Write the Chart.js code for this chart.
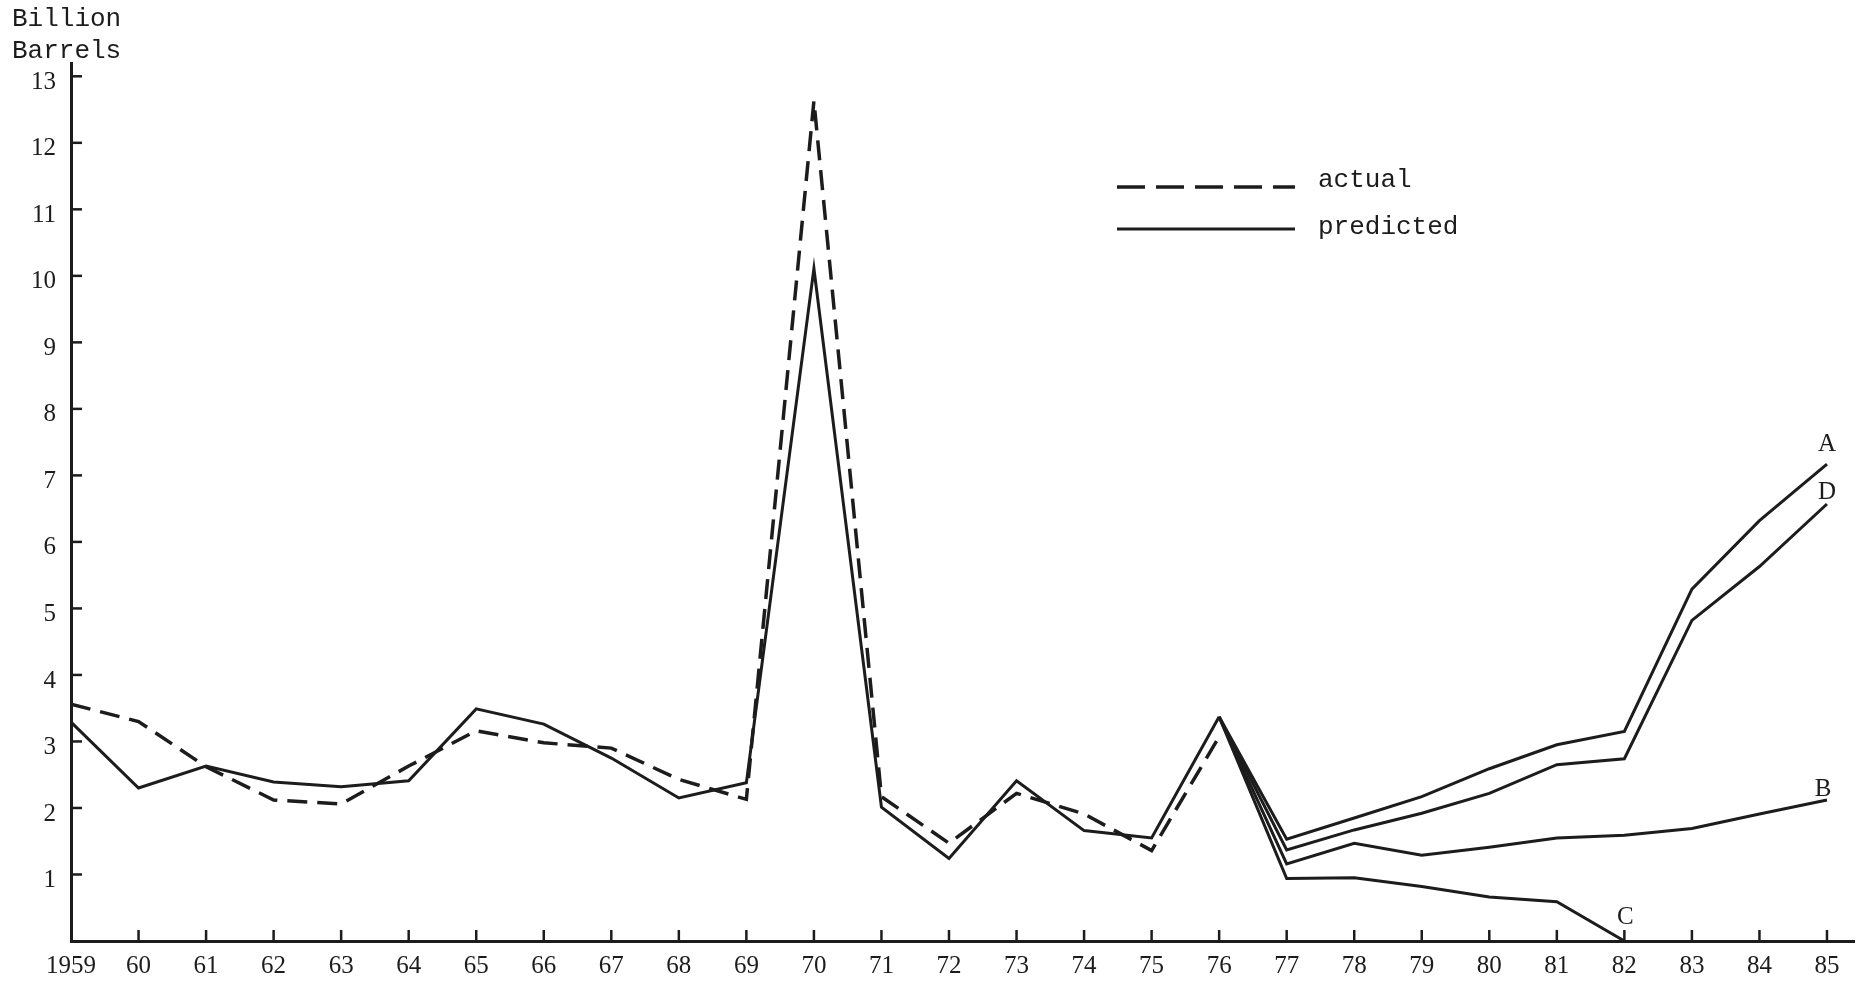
<!DOCTYPE html>
<html lang="en">
  <head>
    <meta charset="UTF-8" />
    <title>Billion Barrels - actual vs predicted</title>
    <script src="https://cdn.jsdelivr.net/npm/chart.js"></script>
    <style>
      html,
      body {
        margin: 0;
        padding: 0;
        background: #ffffff;
      }
      #chart {
        display: block;
      }
    </style>
  </head>
  <body>
    <canvas id="chart" width="1859" height="992"></canvas>

    <script>
      // --- data ---
      var years = [
        1959, 1960, 1961, 1962, 1963, 1964, 1965, 1966, 1967, 1968, 1969, 1970,
        1971, 1972, 1973, 1974, 1975, 1976,
      ];
      var actual = [
        3.56, 3.3, 2.62, 2.12, 2.06, 2.63, 3.16, 2.98, 2.9, 2.43, 2.13, 12.63,
        2.17, 1.47, 2.22, 1.91, 1.36, 3.07,
      ];
      var predicted = [
        3.29, 2.3, 2.63, 2.39, 2.32, 2.41, 3.49, 3.26, 2.75, 2.15, 2.38, 10.11,
        2.01, 1.24, 2.41, 1.66, 1.55, 3.37,
      ];

      // the four cases branch off the 1976 predicted value
      var caseYears = [
        1976, 1977, 1978, 1979, 1980, 1981, 1982, 1983, 1984, 1985,
      ];
      var caseA = [3.37, 1.53, 1.85, 2.17, 2.59, 2.95, 3.15, 5.29, 6.32, 7.17];
      var caseD = [3.37, 1.37, 1.67, 1.92, 2.22, 2.65, 2.74, 4.82, 5.63, 6.57];
      var caseB = [3.37, 1.16, 1.47, 1.29, 1.41, 1.55, 1.59, 1.69, 1.91, 2.12];
      var caseC = [3.37, 0.94, 0.95, 0.82, 0.66, 0.59, 0];

      var xTickLabels = [
        "1959", "60", "61", "62", "63", "64", "65", "66", "67", "68", "69",
        "70", "71", "72", "73", "74", "75", "76", "77", "78", "79", "80",
        "81", "82", "83", "84", "85",
      ];
      var yTickLabels = [
        "1", "2", "3", "4", "5", "6", "7", "8", "9", "10", "11", "12", "13",
      ];

      var ink = "#1c1c1c";
      var typeFont = '"Liberation Mono", "Courier New", monospace';
      var numFont = '"Liberation Serif", "Times New Roman", serif';

      function pairs(xs, ys) {
        return ys.map(function (v, i) {
          return { x: xs[i], y: v };
        });
      }

      function solid(label, xs, ys) {
        return {
          label: label,
          data: pairs(xs, ys),
          borderColor: ink,
          borderWidth: 3,
          pointRadius: 0,
          tension: 0,
          fill: false,
        };
      }

      var actualSet = solid("actual", years, actual);
      actualSet.borderWidth = 3.5;
      actualSet.borderDash = [20, 10];

      // draws the inner tick marks, the typed legend and the A-D tags
      var paperPlugin = {
        id: "paper",
        afterDraw: function (chart) {
          var ctx = chart.ctx;
          var xs = chart.scales.x;
          var ys = chart.scales.y;
          ctx.save();
          ctx.strokeStyle = ink;
          ctx.fillStyle = ink;
          ctx.lineWidth = 2.5;

          xs.ticks.forEach(function (t) {
            if (!Number.isInteger(t.value) || t.value === 1959) return;
            var px = xs.getPixelForValue(t.value);
            ctx.beginPath();
            ctx.moveTo(px, xs.top);
            ctx.lineTo(px, xs.top - 11);
            ctx.stroke();
          });
          ys.ticks.forEach(function (t) {
            if (!Number.isInteger(t.value) || t.value < 1) return;
            var py = ys.getPixelForValue(t.value);
            ctx.beginPath();
            ctx.moveTo(ys.right, py);
            ctx.lineTo(ys.right + 11, py);
            ctx.stroke();
          });

          // axis title, typed
          ctx.font = "26px " + typeFont;
          ctx.textAlign = "left";
          ctx.textBaseline = "alphabetic";
          ctx.fillText("Billion", 12, 26);
          ctx.fillText("Barrels", 12, 58);

          // legend
          ctx.lineWidth = 3.5;
          ctx.setLineDash([28, 11]);
          ctx.beginPath();
          ctx.moveTo(1117, 187);
          ctx.lineTo(1295, 187);
          ctx.stroke();
          ctx.setLineDash([]);
          ctx.lineWidth = 3;
          ctx.beginPath();
          ctx.moveTo(1117, 229);
          ctx.lineTo(1295, 229);
          ctx.stroke();
          ctx.fillText("actual", 1318, 187);
          ctx.fillText("predicted", 1318, 234);

          // case tags next to the end of each case line
          var tagShift = { A: [0, -20], B: [-4, -11], C: [1, -24], D: [0, -12] };
          ctx.font = "25px " + numFont;
          ctx.textAlign = "center";
          ctx.textBaseline = "middle";
          chart.data.datasets.forEach(function (ds, i) {
            var shift = tagShift[ds.label];
            if (!shift) return;
            var pts = chart.getDatasetMeta(i).data;
            var last = pts[pts.length - 1];
            ctx.fillText(ds.label, last.x + shift[0], last.y + shift[1]);
          });
          ctx.restore();
        },
      };

      var chart = new Chart(document.getElementById("chart"), {
        type: "line",
        data: {
          datasets: [
            solid("A", caseYears, caseA),
            solid("D", caseYears, caseD),
            solid("B", caseYears, caseB),
            solid("C", caseYears, caseC),
            solid("predicted", years, predicted),
            actualSet,
          ],
        },
        options: {
          responsive: false,
          animation: false,
          events: [],
          layout: { padding: { top: 63, right: 5, left: 0, bottom: 0 } },
          plugins: {
            legend: { display: false },
            tooltip: { enabled: false },
          },
          scales: {
            x: {
              type: "linear",
              min: 1959,
              max: 1985.4,
              afterFit: function (s) {
                s.height = 51;
              },
              grid: { display: true, drawOnChartArea: false, drawTicks: false },
              border: { color: ink, width: 3 },
              ticks: {
                stepSize: 1,
                includeBounds: false,
                autoSkip: false,
                maxRotation: 0,
                padding: 10,
                color: ink,
                font: { family: numFont, size: 25 },
                callback: function (v) {
                  return xTickLabels[v - 1959] || "";
                },
              },
            },
            y: {
              min: 0,
              max: 13.2,
              afterFit: function (s) {
                s.width = 71;
              },
              grid: { display: true, drawOnChartArea: false, drawTicks: false },
              border: { color: ink, width: 3 },
              ticks: {
                stepSize: 1,
                includeBounds: false,
                autoSkip: false,
                padding: 15,
                labelOffset: 6,
                color: ink,
                font: { family: numFont, size: 25 },
                callback: function (v) {
                  return yTickLabels[v - 1] || "";
                },
              },
            },
          },
        },
        plugins: [paperPlugin],
      });
    </script>
  </body>
</html>
